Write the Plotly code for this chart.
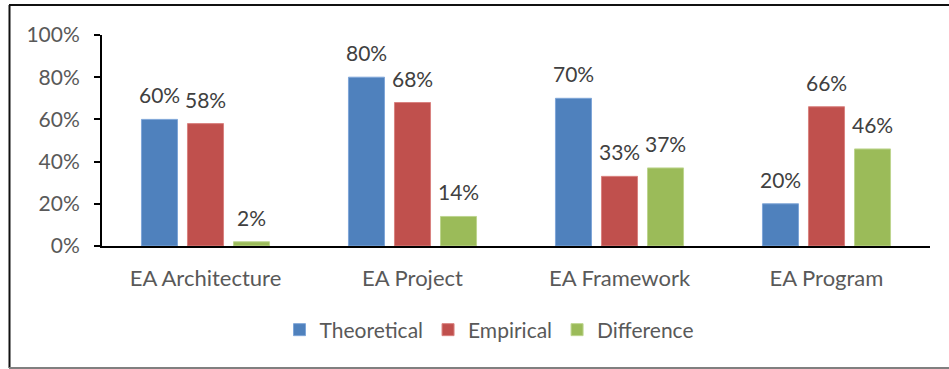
import plotly.graph_objects as go

categories = ["EA Architecture", "EA Project", "EA Framework", "EA Program"]
theoretical = [0.60, 0.80, 0.70, 0.20]
empirical = [0.58, 0.68, 0.33, 0.66]
difference = [0.02, 0.14, 0.37, 0.46]
series_names = ["Theoretical", "Empirical", "Difference"]
colors = ["#4F81BD", "#C0504D", "#9BBB59"]
outlines = ["#7FA6D8", "#D9827F", "#BDD58F"]

FONT = "Lato, Carlito, Calibri, sans-serif"
BARGAP = 0.333
NSER = len(series_names)

fig = go.Figure()
annotations = []
for si, (name, vals, c, oc) in enumerate(zip(series_names, [theoretical, empirical, difference], colors, outlines)):
    fig.add_trace(go.Bar(
        x=categories, y=vals, name=name,
        marker=dict(color=c, line=dict(color=oc, width=1)),
    ))
    slot = (1 - BARGAP) / NSER
    for ci, v in enumerate(vals):
        annotations.append(dict(
            x=ci + (si - (NSER - 1) / 2) * slot, y=v, xref="x", yref="y",
            text=f"{round(v * 100)}%", showarrow=False, yanchor="bottom", xanchor="center",
            yshift=10, font=dict(family=FONT, size=21, color="#404040"),
        ))

L, R, T, B = 102, 19, 35, 123
W, H = 949, 369
pw, ph = W - L - R, H - T - B

def px_x(p):
    return (p - L) / pw

def px_y(p):
    return (H - B - p) / ph

fig.update_layout(
    width=W, height=H,
    margin=dict(l=L, r=R, t=T, b=B),
    paper_bgcolor="white", plot_bgcolor="white",
    barmode="group", bargap=BARGAP, bargroupgap=0.217,
    font=dict(family=FONT, color="#595959"),
    showlegend=True,
    legend=dict(orientation="h", x=0.468, xanchor="center", y=px_y(330), yanchor="middle",
                font=dict(family=FONT, size=21, color="#595959"),
                itemwidth=30, tracegroupgap=0),
    xaxis=dict(showline=True, linecolor="black", linewidth=2, ticks="",
               tickfont=dict(family=FONT, size=22, color="#595959"), showgrid=False,
               ticklabelstandoff=12),
    yaxis=dict(range=[0, 1.0], tickvals=[0, 0.2, 0.4, 0.6, 0.8, 1.0], tickformat=".0%",
               showline=True, linecolor="black", linewidth=2, ticks="outside", ticklen=6,
               tickcolor="black", tickwidth=2, ticklabelstandoff=10,
               tickfont=dict(family=FONT, size=21, color="#595959"), showgrid=False, zeroline=False),
    annotations=annotations,
    shapes=[
        dict(type="line", xref="paper", yref="paper", x0=px_x(9), x1=px_x(949), y0=px_y(5), y1=px_y(5),
             line=dict(color="#111111", width=2)),
        dict(type="line", xref="paper", yref="paper", x0=px_x(9.5), x1=px_x(9.5), y0=px_y(5), y1=px_y(368),
             line=dict(color="#111111", width=2)),
        dict(type="line", xref="paper", yref="paper", x0=px_x(9), x1=px_x(949), y0=px_y(368), y1=px_y(368),
             line=dict(color="#808080", width=2)),
    ],
)

fig.write_html("out.html")
